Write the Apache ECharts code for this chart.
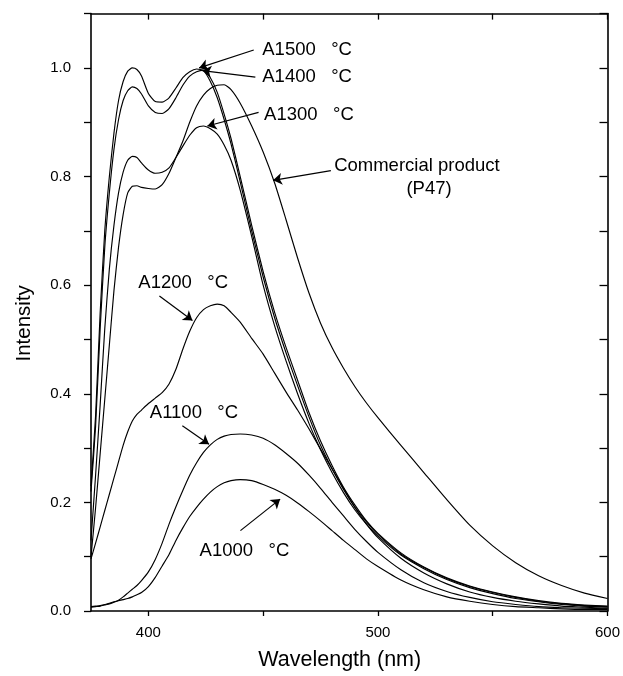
<!DOCTYPE html>
<html>
<head>
<meta charset="utf-8">
<script src="https://cdn.jsdelivr.net/npm/echarts@6/dist/echarts.min.js"></script>
<style>
html,body{margin:0;padding:0;background:#fff;}
#chart{width:623px;height:676px;}
</style>
</head>
<body>
<div id="chart"></div>
<script>
// ---- data ----
const wavelength = [375,377,379,381,383,385,387,389,391,393,
  395,397,400,403,406,409,412,415,418,421,
  424,427,430,433,436,440,445,450,455,460,
  465,470,475,480,485,490,495,500,510,520,
  530,540,550,560,570,580,590,600];

const a1500 = [0.23,0.36,0.55,0.70,0.80,0.88,0.94,0.975,0.994,1.0,
  0.997,0.985,0.953,0.938,0.937,0.945,0.963,0.982,0.993,0.998,
  0.995,0.975,0.945,0.905,0.86,0.79,0.70,0.615,0.54,0.475,
  0.415,0.357,0.305,0.262,0.224,0.191,0.164,0.141,0.105,0.08,
  0.06,0.045,0.034,0.025,0.018,0.013,0.010,0.008];

const a1400 = [0.22,0.34,0.52,0.67,0.77,0.85,0.905,0.94,0.958,0.965,
  0.962,0.952,0.93,0.918,0.916,0.925,0.945,0.968,0.985,0.993,
  0.996,0.982,0.955,0.915,0.87,0.80,0.71,0.625,0.55,0.485,
  0.425,0.365,0.313,0.268,0.228,0.195,0.166,0.143,0.107,0.081,
  0.061,0.046,0.035,0.026,0.019,0.014,0.011,0.009];

const a1300 = [0.13,0.25,0.38,0.52,0.63,0.71,0.77,0.808,0.83,0.837,
  0.835,0.825,0.812,0.806,0.808,0.816,0.835,0.856,0.876,0.89,
  0.893,0.888,0.878,0.858,0.83,0.775,0.69,0.60,0.525,0.46,
  0.40,0.345,0.297,0.255,0.218,0.186,0.16,0.138,0.103,0.078,
  0.058,0.043,0.032,0.023,0.017,0.012,0.009,0.007];

const commercialP47 = [0.10,0.19,0.29,0.39,0.49,0.59,0.67,0.73,0.77,0.782,
  0.783,0.78,0.778,0.777,0.785,0.806,0.835,0.865,0.9,0.93,
  0.95,0.962,0.968,0.969,0.96,0.935,0.893,0.845,0.788,0.72,
  0.65,0.585,0.53,0.485,0.447,0.413,0.383,0.356,0.305,0.255,
  0.205,0.158,0.12,0.089,0.065,0.047,0.033,0.023];

const a1200 = [0.096,0.125,0.155,0.185,0.215,0.245,0.275,0.305,0.33,0.35,
  0.362,0.37,0.382,0.392,0.402,0.418,0.445,0.482,0.515,0.54,
  0.555,0.562,0.565,0.562,0.55,0.532,0.502,0.473,0.438,0.403,
  0.37,0.335,0.298,0.262,0.226,0.19,0.16,0.135,0.097,0.07,
  0.05,0.035,0.025,0.018,0.013,0.009,0.007,0.005];

const a1100 = [0.007,0.008,0.009,0.011,0.013,0.016,0.02,0.026,0.033,0.04,
  0.047,0.056,0.072,0.095,0.125,0.16,0.192,0.222,0.25,0.273,
  0.292,0.306,0.316,0.322,0.325,0.326,0.324,0.318,0.306,0.29,
  0.272,0.25,0.226,0.2,0.175,0.15,0.128,0.108,0.076,0.052,
  0.036,0.025,0.017,0.012,0.008,0.006,0.005,0.004];

const a1000 = [0.008,0.009,0.01,0.012,0.014,0.017,0.019,0.021,0.023,0.026,
  0.03,0.034,0.045,0.062,0.083,0.104,0.13,0.153,0.174,0.191,
  0.206,0.219,0.229,0.236,0.24,0.242,0.24,0.233,0.224,0.213,
  0.199,0.183,0.166,0.148,0.13,0.113,0.096,0.082,0.057,0.039,
  0.026,0.018,0.012,0.008,0.006,0.004,0.003,0.003];

const seriesNames = ['A1500 °C','A1400 °C','A1300 °C','Commercial product (P47)','A1200 °C','A1100 °C','A1000 °C'];
const seriesValues = [a1500,a1400,a1300,commercialP47,a1200,a1100,a1000];

const xTickValues = [400,450,500,550,600];
const xLabelValues = [400,500,600];
const yLabelValues = [0,0.2,0.4,0.6,0.8,1.0];

// annotation texts: [text, x, y] (data coords of text's left/middle)
const annoTexts = [
  ['A1500   °C', 449.4, 1.033],
  ['A1400   °C', 449.4, 0.983],
  ['A1300   °C', 450.2, 0.914],
  ['Commercial product', 480.7, 0.82],
  ['(P47)', 512.2, 0.777],
  ['A1200   °C', 395.4, 0.604],
  ['A1100   °C', 400.4, 0.365],
  ['A1000   °C', 422.1, 0.111]
];
// arrows: [fromX, fromY, toX, toY]
const annoArrows = [
  [445.9, 1.033, 422.1, 1.0],
  [446.6, 0.983, 423.5, 0.995],
  [448.0, 0.918, 425.7, 0.893],
  [479.5, 0.811, 454.3, 0.793],
  [404.8, 0.58, 419.2, 0.535],
  [414.8, 0.341, 426.4, 0.307],
  [440.1, 0.148, 457.4, 0.206]
];

const FONT = '"Liberation Sans", Arial, Helvetica, sans-serif';

const chart = echarts.init(document.getElementById('chart'), null, {renderer:'canvas'});

const lineSeries = seriesValues.map((vals, k) => ({
  name: seriesNames[k],
  type: 'line',
  xAxisIndex: 0, yAxisIndex: 0,
  data: wavelength.map((w, i) => [w, vals[i]]),
  showSymbol: false,
  smooth: 0.2,
  silent: true,
  animation: false,
  lineStyle: {color: '#000', width: 1.15, join: 'round'}
}));

const annoSeries = {
  type: 'line',
  xAxisIndex: 0, yAxisIndex: 0,
  data: [],
  silent: true,
  animation: false,
  markPoint: {
    silent: true,
    animation: false,
    symbol: 'circle',
    symbolSize: 1,
    itemStyle: {color: 'rgba(0,0,0,0)'},
    label: {
      show: true, position: 'right', distance: 0,
      color: '#000', fontFamily: FONT, fontSize: 18.5,
      formatter: p => p.name
    },
    data: annoTexts.map(t => ({name: t[0], coord: [t[1], t[2]]}))
  },
  markLine: {
    silent: true,
    animation: false,
    symbol: ['none', 'arrow'],
    symbolSize: 9,
    label: {show: false},
    lineStyle: {color: '#000', width: 1.2, type: 'solid'},
    data: annoArrows.map(a => [{coord: [a[0], a[1]]}, {coord: [a[2], a[3]]}])
  }
};

const option = {
  backgroundColor: '#fff',
  animation: false,
  grid: {left: 91, right: 12, top: 13.6, bottom: 64, containLabel: false},
  xAxis: [{
    type: 'value', position: 'bottom', min: 375, max: 600, interval: 25,
    name: 'Wavelength (nm)', nameLocation: 'middle', nameGap: 38,
    nameTextStyle: {fontFamily: FONT, fontSize: 21.5, color: '#000', padding: [0, 19, 0, 0]},
    axisLine: {show: true, onZero: false, lineStyle: {color: '#000', width: 1.6}},
    axisTick: {show: true, inside: false, length: 5, customValues: xTickValues, lineStyle: {color: '#000', width: 1.3}},
    axisLabel: {show: true, customValues: xLabelValues, margin: 14, fontFamily: FONT, fontSize: 15, color: '#000',
      formatter: v => String(Math.round(v))},
    splitLine: {show: false}
  }, {
    type: 'value', position: 'top', min: 375, max: 600, interval: 25,
    axisLine: {show: true, onZero: false, lineStyle: {color: '#000', width: 1.6}},
    axisTick: {show: true, inside: true, length: 6, customValues: xTickValues, lineStyle: {color: '#000', width: 1.3}},
    axisLabel: {show: false},
    splitLine: {show: false}
  }],
  yAxis: [{
    type: 'value', position: 'left', min: 0, max: 1.1, interval: 0.1,
    name: 'Intensity', nameLocation: 'middle', nameGap: 56, nameRotate: 90,
    nameTextStyle: {fontFamily: FONT, fontSize: 20.5, color: '#000', padding: [0, 22, 0, 0]},
    axisLine: {show: true, onZero: false, lineStyle: {color: '#000', width: 1.6}},
    axisTick: {show: true, inside: false, length: 7, lineStyle: {color: '#000', width: 1.3}},
    axisLabel: {show: true, customValues: yLabelValues, margin: 20, fontFamily: FONT, fontSize: 15, color: '#000',
      formatter: v => v.toFixed(1)},
    splitLine: {show: false}
  }, {
    type: 'value', position: 'right', min: 0, max: 1.1, interval: 0.1,
    axisLine: {show: true, onZero: false, lineStyle: {color: '#000', width: 1.6}},
    axisTick: {show: true, inside: true, length: 8, lineStyle: {color: '#000', width: 1.3}},
    axisLabel: {show: false},
    splitLine: {show: false}
  }],
  series: lineSeries.concat([annoSeries])
};

chart.setOption(option);
</script>
</body>
</html>
